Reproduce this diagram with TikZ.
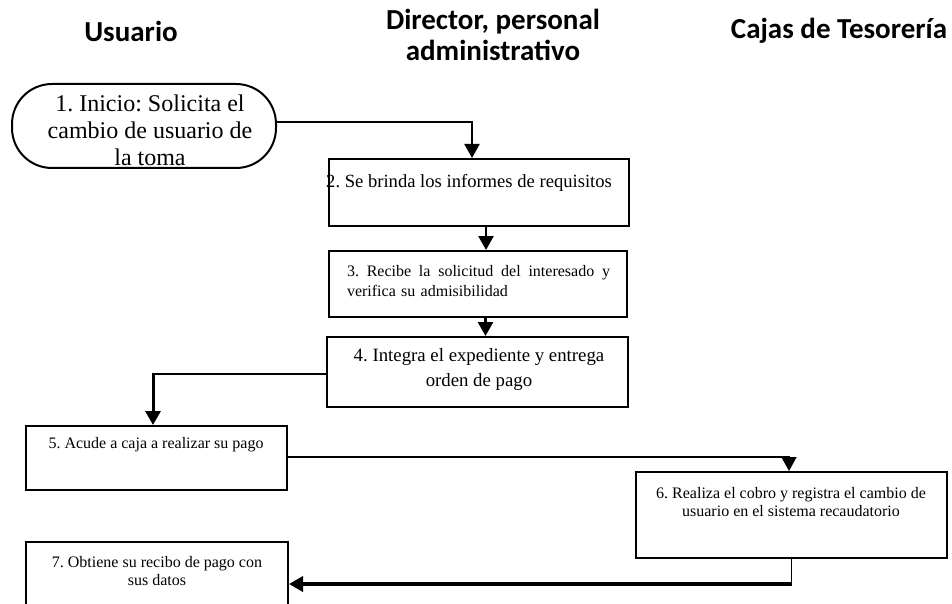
\documentclass[tikz,border=0pt]{standalone}
\usepackage{fontspec}
\setmainfont{Liberation Serif}
\newfontfamily\headfont{Carlito}
\usetikzlibrary{arrows.meta}
\begin{document}
\frenchspacing
\begin{tikzpicture}[x=1pt,y=-1pt,
  box/.style={draw, line width=2pt, inner sep=0pt},
  lanehead/.style={font=\headfont\bfseries\fontsize{29}{31}\selectfont, align=center, inner sep=0pt},
  txt/.style={inner sep=0pt, align=center},
  link/.style={line width=2pt, -{Triangle[width=15pt,length=14pt]}},
  thinlink/.style={line width=1.5pt}
]
\clip (0,0) rectangle (952,604);
\fill[white] (0,0) rectangle (952,604);

% lane headings
\node[lanehead] (hu) at (131,31) {Usuario};
\node[lanehead] (hd) at (493,35) {Director, personal\\administrativo};
\node[lanehead] (hc) at (839,31) {Cajas de Tesorería};

% process boxes
\node[box, rounded corners=40pt, minimum width=264pt, minimum height=84pt] (b1) at (144,126) {};
\node[box, minimum width=300pt, minimum height=67pt] (b2) at (478.5,192.5) {};
\node[box, minimum width=298pt, minimum height=66pt] (b3) at (478,284) {};
\node[box, minimum width=301pt, minimum height=70pt] (b4) at (477.5,372) {};
\node[box, minimum width=261pt, minimum height=64pt] (b5) at (156.5,458) {};
\node[box, minimum width=311pt, minimum height=86pt] (b6) at (791.5,515) {};
\node[box, minimum width=262pt, minimum height=84pt] (b7) at (157,584) {};

% box texts
\node[txt, font=\fontsize{24}{27}\selectfont] (t1) at (150,130)
  {1. Inicio: Solicita el\\cambio de usuario de\\la toma};
\node[txt, anchor=west, font=\fontsize{18.6}{24}\selectfont] (t2) at (326,183)
  {2. Se brinda los informes de requisitos};
\node[inner sep=0pt, text width=263pt, align=left, font=\fontsize{16}{20}\selectfont] (t3) at (478.5,281)
  {\hbox to 263pt{3.\hfill Recibe\hfill la\hfill solicitud\hfill del\hfill interesado\hfill y}\\verifica su admisibilidad};
\node[txt, font=\fontsize{18.8}{25}\selectfont] (t4) at (479,370)
  {4. Integra el expediente y entrega\\orden de pago};
\node[txt, font=\fontsize{16}{19}\selectfont] (t5) at (156,445)
  {5. Acude a caja a realizar su pago};
\node[txt, font=\fontsize{16}{18.5}\selectfont] (t6) at (791,502)
  {6. Realiza el cobro y registra el cambio de\\usuario en el sistema recaudatorio};
\node[txt, font=\fontsize{16}{18.5}\selectfont] (t7) at (157,571)
  {7. Obtiene su recibo de pago con\\sus datos};

% 1 -> 2
\draw[link] ([yshift=4pt]b1.east) -| ([xshift=-6.5pt]b2.north);

% 2 -> 3
\path ([xshift=7.5pt]b2.south) coordinate (s2);
\draw[link, line width=2.5pt] (s2) -- (s2 |- b3.north);

% 3 -> 4
\path ([xshift=7.5pt]b3.south) coordinate (s3);
\draw[link, line width=2.5pt] (s3) -- (s3 |- b4.north);

% 4 -> 5
\path ([yshift=-2pt]b4.west) coordinate (w4);
\path ([xshift=-3.5pt]b5.north) coordinate (n5);
\coordinate (k45) at (n5 |- w4);
\draw[thinlink] (w4) -- (k45);
\draw[link, line width=3pt] ([yshift=0.75pt]k45) -- (n5);

% 5 -> 6
\path ([yshift=1pt]b5.east) coordinate (e5);
\path ([xshift=-2.5pt]b6.north) coordinate (n6);
\draw[link, line width=1.5pt] (e5) -| (n6);

% 6 -> 7
\coordinate (k67) at (b6.south |- b7.east);
\draw[thinlink] (b6.south) -- ([yshift=-1.75pt]k67);
\draw[link, line width=3.5pt] ([xshift=0.75pt]k67) -- (b7.east);
\end{tikzpicture}
\end{document}
